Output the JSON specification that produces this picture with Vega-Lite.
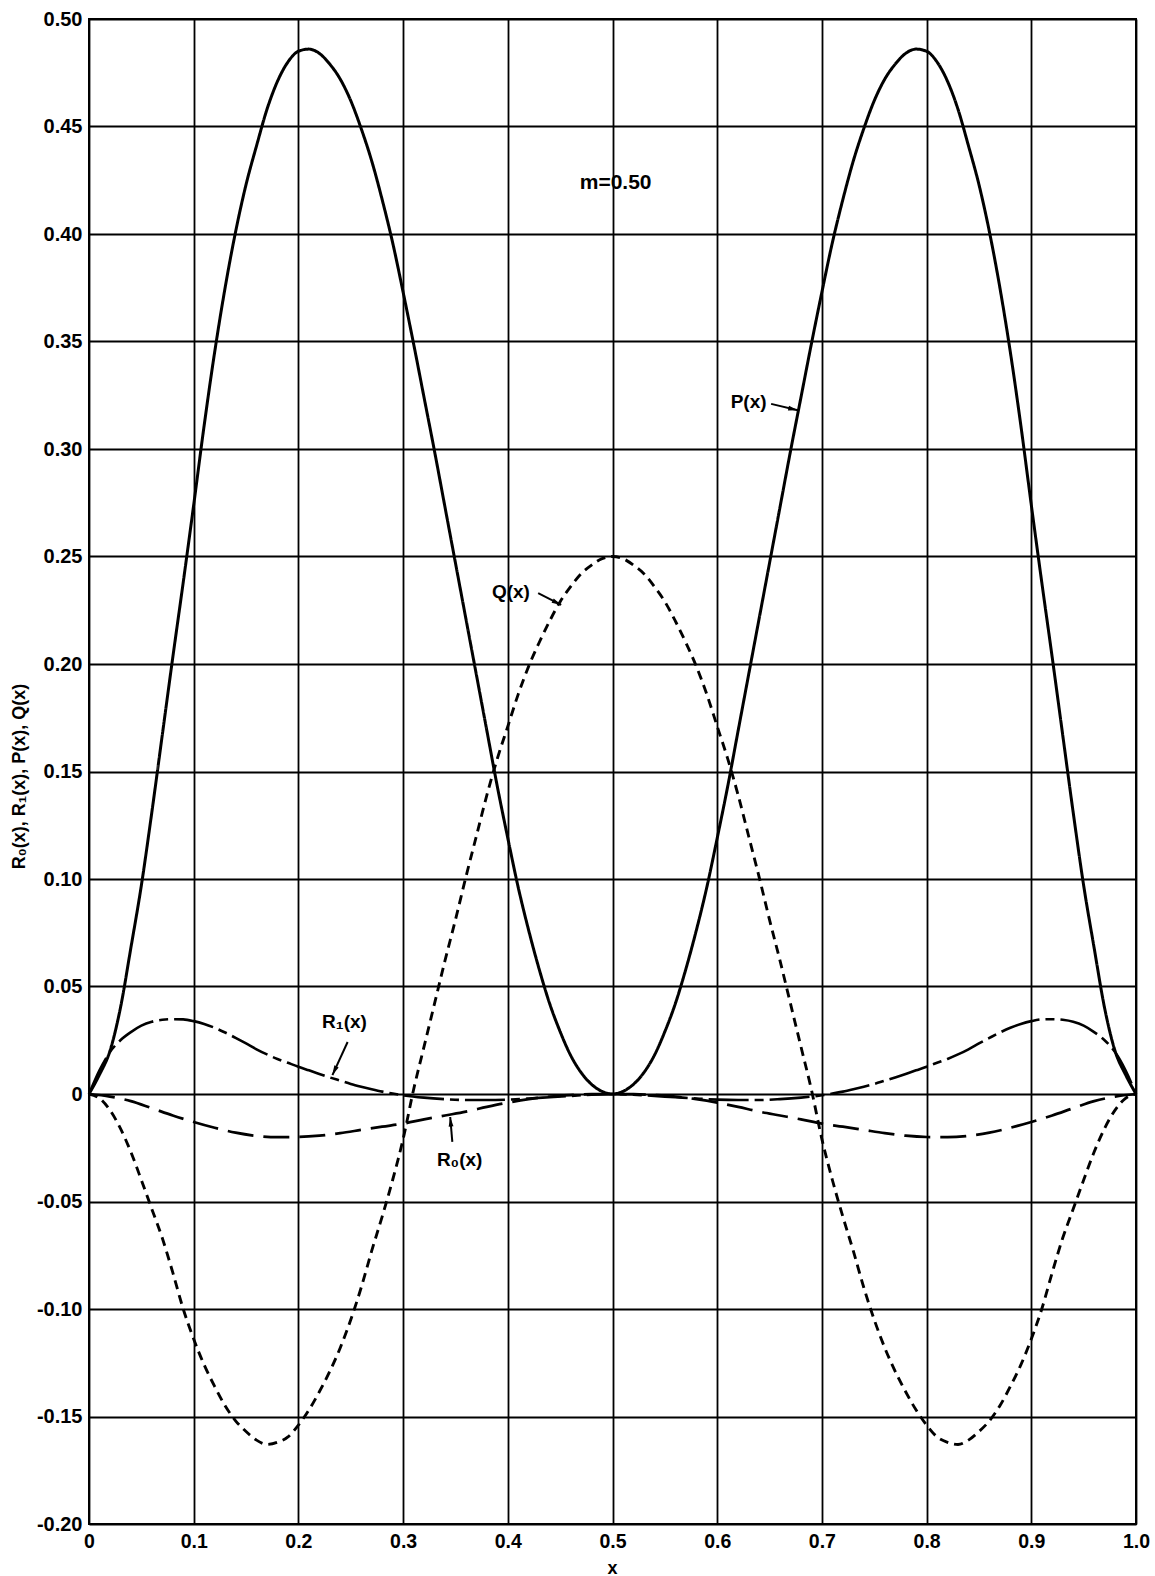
{
  "$schema": "https://vega.github.io/schema/vega-lite/v6.json",
  "width": 1047,
  "height": 1505,
  "autosize": {"type": "none"},
  "padding": {"left": 89, "top": 19, "right": 19, "bottom": 52},
  "background": "white",
  "config": {"view": {"stroke": "black", "strokeWidth": 2}, "font": "Liberation Sans"},
  "datasets": {
    "curves": [
      {"s":"P","x":0,"y":0},{"s":"P","x":0.01,"y":0.009},{"s":"P","x":0.02,"y":0.02},{"s":"P","x":0.03,"y":0.04},{"s":"P","x":0.04,"y":0.068},{"s":"P","x":0.05,"y":0.097},{"s":"P","x":0.06,"y":0.131},{"s":"P","x":0.07,"y":0.167},{"s":"P","x":0.08,"y":0.203},{"s":"P","x":0.09,"y":0.238},{"s":"P","x":0.1,"y":0.274},{"s":"P","x":0.11,"y":0.311},{"s":"P","x":0.12,"y":0.345},{"s":"P","x":0.13,"y":0.375},{"s":"P","x":0.14,"y":0.401},{"s":"P","x":0.15,"y":0.423},{"s":"P","x":0.16,"y":0.441},{"s":"P","x":0.17,"y":0.458},{"s":"P","x":0.18,"y":0.471},{"s":"P","x":0.19,"y":0.48},{"s":"P","x":0.2,"y":0.485},{"s":"P","x":0.21,"y":0.486},{"s":"P","x":0.22,"y":0.484},{"s":"P","x":0.23,"y":0.479},{"s":"P","x":0.24,"y":0.472},{"s":"P","x":0.25,"y":0.462},{"s":"P","x":0.26,"y":0.449},{"s":"P","x":0.27,"y":0.434},{"s":"P","x":0.28,"y":0.416},{"s":"P","x":0.29,"y":0.396},{"s":"P","x":0.3,"y":0.373},{"s":"P","x":0.31,"y":0.349},{"s":"P","x":0.32,"y":0.324},{"s":"P","x":0.33,"y":0.299},{"s":"P","x":0.34,"y":0.273},{"s":"P","x":0.35,"y":0.247},{"s":"P","x":0.36,"y":0.221},{"s":"P","x":0.37,"y":0.195},{"s":"P","x":0.38,"y":0.169},{"s":"P","x":0.39,"y":0.143},{"s":"P","x":0.4,"y":0.119},{"s":"P","x":0.41,"y":0.096},{"s":"P","x":0.42,"y":0.076},{"s":"P","x":0.43,"y":0.058},{"s":"P","x":0.44,"y":0.042},{"s":"P","x":0.45,"y":0.029},{"s":"P","x":0.46,"y":0.018},{"s":"P","x":0.47,"y":0.01},{"s":"P","x":0.48,"y":0.0045},{"s":"P","x":0.49,"y":0.0012},{"s":"P","x":0.5,"y":0},
      {"s":"P","x":0.51,"y":0.0012},{"s":"P","x":0.52,"y":0.0045},{"s":"P","x":0.53,"y":0.01},{"s":"P","x":0.54,"y":0.018},{"s":"P","x":0.55,"y":0.029},{"s":"P","x":0.56,"y":0.042},{"s":"P","x":0.57,"y":0.058},{"s":"P","x":0.58,"y":0.076},{"s":"P","x":0.59,"y":0.096},{"s":"P","x":0.6,"y":0.119},{"s":"P","x":0.61,"y":0.143},{"s":"P","x":0.62,"y":0.169},{"s":"P","x":0.63,"y":0.195},{"s":"P","x":0.64,"y":0.221},{"s":"P","x":0.65,"y":0.247},{"s":"P","x":0.66,"y":0.273},{"s":"P","x":0.67,"y":0.299},{"s":"P","x":0.68,"y":0.324},{"s":"P","x":0.69,"y":0.349},{"s":"P","x":0.7,"y":0.373},{"s":"P","x":0.71,"y":0.396},{"s":"P","x":0.72,"y":0.416},{"s":"P","x":0.73,"y":0.434},{"s":"P","x":0.74,"y":0.449},{"s":"P","x":0.75,"y":0.462},{"s":"P","x":0.76,"y":0.472},{"s":"P","x":0.77,"y":0.479},{"s":"P","x":0.78,"y":0.484},{"s":"P","x":0.79,"y":0.486},{"s":"P","x":0.8,"y":0.485},{"s":"P","x":0.81,"y":0.48},{"s":"P","x":0.82,"y":0.471},{"s":"P","x":0.83,"y":0.458},{"s":"P","x":0.84,"y":0.441},{"s":"P","x":0.85,"y":0.423},{"s":"P","x":0.86,"y":0.401},{"s":"P","x":0.87,"y":0.375},{"s":"P","x":0.88,"y":0.345},{"s":"P","x":0.89,"y":0.311},{"s":"P","x":0.9,"y":0.274},{"s":"P","x":0.91,"y":0.238},{"s":"P","x":0.92,"y":0.203},{"s":"P","x":0.93,"y":0.167},{"s":"P","x":0.94,"y":0.131},{"s":"P","x":0.95,"y":0.097},{"s":"P","x":0.96,"y":0.068},{"s":"P","x":0.97,"y":0.04},{"s":"P","x":0.98,"y":0.02},{"s":"P","x":0.99,"y":0.009},{"s":"P","x":1,"y":0},
      {"s":"Q","x":0,"y":0},{"s":"Q","x":0.01,"y":-0.002},{"s":"Q","x":0.02,"y":-0.0075},{"s":"Q","x":0.03,"y":-0.016},{"s":"Q","x":0.04,"y":-0.027},{"s":"Q","x":0.05,"y":-0.04},{"s":"Q","x":0.06,"y":-0.0535},{"s":"Q","x":0.07,"y":-0.067},{"s":"Q","x":0.08,"y":-0.083},{"s":"Q","x":0.09,"y":-0.1},{"s":"Q","x":0.1,"y":-0.114},{"s":"Q","x":0.11,"y":-0.126},{"s":"Q","x":0.12,"y":-0.136},{"s":"Q","x":0.13,"y":-0.145},{"s":"Q","x":0.14,"y":-0.152},{"s":"Q","x":0.15,"y":-0.157},{"s":"Q","x":0.16,"y":-0.161},{"s":"Q","x":0.17,"y":-0.163},{"s":"Q","x":0.18,"y":-0.162},{"s":"Q","x":0.19,"y":-0.1595},{"s":"Q","x":0.2,"y":-0.154},{"s":"Q","x":0.21,"y":-0.147},{"s":"Q","x":0.22,"y":-0.1385},{"s":"Q","x":0.23,"y":-0.129},{"s":"Q","x":0.24,"y":-0.118},{"s":"Q","x":0.25,"y":-0.105},{"s":"Q","x":0.26,"y":-0.09},{"s":"Q","x":0.27,"y":-0.073},{"s":"Q","x":0.28,"y":-0.057},{"s":"Q","x":0.29,"y":-0.04},{"s":"Q","x":0.3,"y":-0.021},{"s":"Q","x":0.31,"y":0.002},{"s":"Q","x":0.32,"y":0.022},{"s":"Q","x":0.33,"y":0.042},{"s":"Q","x":0.34,"y":0.062},{"s":"Q","x":0.35,"y":0.081},{"s":"Q","x":0.36,"y":0.101},{"s":"Q","x":0.37,"y":0.12},{"s":"Q","x":0.38,"y":0.139},{"s":"Q","x":0.39,"y":0.156},{"s":"Q","x":0.4,"y":0.171},{"s":"Q","x":0.41,"y":0.186},{"s":"Q","x":0.42,"y":0.199},{"s":"Q","x":0.43,"y":0.21},{"s":"Q","x":0.44,"y":0.22},{"s":"Q","x":0.45,"y":0.229},{"s":"Q","x":0.46,"y":0.236},{"s":"Q","x":0.47,"y":0.242},{"s":"Q","x":0.48,"y":0.246},{"s":"Q","x":0.49,"y":0.249},{"s":"Q","x":0.5,"y":0.25},
      {"s":"Q","x":0.51,"y":0.249},{"s":"Q","x":0.52,"y":0.246},{"s":"Q","x":0.53,"y":0.242},{"s":"Q","x":0.54,"y":0.236},{"s":"Q","x":0.55,"y":0.229},{"s":"Q","x":0.56,"y":0.22},{"s":"Q","x":0.57,"y":0.21},{"s":"Q","x":0.58,"y":0.199},{"s":"Q","x":0.59,"y":0.186},{"s":"Q","x":0.6,"y":0.171},{"s":"Q","x":0.61,"y":0.156},{"s":"Q","x":0.62,"y":0.139},{"s":"Q","x":0.63,"y":0.12},{"s":"Q","x":0.64,"y":0.101},{"s":"Q","x":0.65,"y":0.081},{"s":"Q","x":0.66,"y":0.062},{"s":"Q","x":0.67,"y":0.042},{"s":"Q","x":0.68,"y":0.022},{"s":"Q","x":0.69,"y":0.002},{"s":"Q","x":0.7,"y":-0.021},{"s":"Q","x":0.71,"y":-0.04},{"s":"Q","x":0.72,"y":-0.057},{"s":"Q","x":0.73,"y":-0.073},{"s":"Q","x":0.74,"y":-0.09},{"s":"Q","x":0.75,"y":-0.105},{"s":"Q","x":0.76,"y":-0.118},{"s":"Q","x":0.77,"y":-0.129},{"s":"Q","x":0.78,"y":-0.1385},{"s":"Q","x":0.79,"y":-0.147},{"s":"Q","x":0.8,"y":-0.154},{"s":"Q","x":0.81,"y":-0.1595},{"s":"Q","x":0.82,"y":-0.162},{"s":"Q","x":0.83,"y":-0.163},{"s":"Q","x":0.84,"y":-0.161},{"s":"Q","x":0.85,"y":-0.157},{"s":"Q","x":0.86,"y":-0.152},{"s":"Q","x":0.87,"y":-0.145},{"s":"Q","x":0.88,"y":-0.136},{"s":"Q","x":0.89,"y":-0.126},{"s":"Q","x":0.9,"y":-0.114},{"s":"Q","x":0.91,"y":-0.1},{"s":"Q","x":0.92,"y":-0.083},{"s":"Q","x":0.93,"y":-0.067},{"s":"Q","x":0.94,"y":-0.0535},{"s":"Q","x":0.95,"y":-0.04},{"s":"Q","x":0.96,"y":-0.027},{"s":"Q","x":0.97,"y":-0.016},{"s":"Q","x":0.98,"y":-0.0075},{"s":"Q","x":0.99,"y":-0.002},{"s":"Q","x":1,"y":0},
      {"s":"R0","x":0,"y":0},{"s":"R0","x":0.02,"y":-0.0012},{"s":"R0","x":0.04,"y":-0.0033},{"s":"R0","x":0.06,"y":-0.0066},{"s":"R0","x":0.08,"y":-0.01},{"s":"R0","x":0.1,"y":-0.013},{"s":"R0","x":0.12,"y":-0.0157},{"s":"R0","x":0.14,"y":-0.018},{"s":"R0","x":0.16,"y":-0.0195},{"s":"R0","x":0.18,"y":-0.0201},{"s":"R0","x":0.2,"y":-0.02},{"s":"R0","x":0.22,"y":-0.0194},{"s":"R0","x":0.24,"y":-0.0182},{"s":"R0","x":0.26,"y":-0.0167},{"s":"R0","x":0.28,"y":-0.0152},{"s":"R0","x":0.3,"y":-0.0138},{"s":"R0","x":0.32,"y":-0.0118},{"s":"R0","x":0.34,"y":-0.01},{"s":"R0","x":0.36,"y":-0.0082},{"s":"R0","x":0.38,"y":-0.006},{"s":"R0","x":0.4,"y":-0.004},{"s":"R0","x":0.42,"y":-0.0024},{"s":"R0","x":0.44,"y":-0.0012},{"s":"R0","x":0.46,"y":-0.0005},{"s":"R0","x":0.48,"y":-0.0001},{"s":"R0","x":0.5,"y":0},
      {"s":"R0","x":0.52,"y":-0.0001},{"s":"R0","x":0.54,"y":-0.0005},{"s":"R0","x":0.56,"y":-0.0012},{"s":"R0","x":0.58,"y":-0.0024},{"s":"R0","x":0.6,"y":-0.004},{"s":"R0","x":0.62,"y":-0.006},{"s":"R0","x":0.64,"y":-0.0082},{"s":"R0","x":0.66,"y":-0.01},{"s":"R0","x":0.68,"y":-0.0118},{"s":"R0","x":0.7,"y":-0.0138},{"s":"R0","x":0.72,"y":-0.0152},{"s":"R0","x":0.74,"y":-0.0167},{"s":"R0","x":0.76,"y":-0.0182},{"s":"R0","x":0.78,"y":-0.0194},{"s":"R0","x":0.8,"y":-0.02},{"s":"R0","x":0.82,"y":-0.0201},{"s":"R0","x":0.84,"y":-0.0195},{"s":"R0","x":0.86,"y":-0.018},{"s":"R0","x":0.88,"y":-0.0157},{"s":"R0","x":0.9,"y":-0.013},{"s":"R0","x":0.92,"y":-0.01},{"s":"R0","x":0.94,"y":-0.0066},{"s":"R0","x":0.96,"y":-0.0033},{"s":"R0","x":0.98,"y":-0.0012},{"s":"R0","x":1,"y":0},
      {"s":"R1","x":0,"y":0},{"s":"R1","x":0.01,"y":0.011},{"s":"R1","x":0.02,"y":0.0195},{"s":"R1","x":0.03,"y":0.025},{"s":"R1","x":0.04,"y":0.0288},{"s":"R1","x":0.05,"y":0.0318},{"s":"R1","x":0.06,"y":0.0336},{"s":"R1","x":0.07,"y":0.0345},{"s":"R1","x":0.08,"y":0.0348},{"s":"R1","x":0.09,"y":0.0347},{"s":"R1","x":0.1,"y":0.0339},{"s":"R1","x":0.11,"y":0.0326},{"s":"R1","x":0.12,"y":0.0308},{"s":"R1","x":0.13,"y":0.0286},{"s":"R1","x":0.14,"y":0.0261},{"s":"R1","x":0.15,"y":0.0235},{"s":"R1","x":0.16,"y":0.0208},{"s":"R1","x":0.17,"y":0.0184},{"s":"R1","x":0.18,"y":0.0163},{"s":"R1","x":0.19,"y":0.0145},{"s":"R1","x":0.2,"y":0.0127},{"s":"R1","x":0.21,"y":0.011},{"s":"R1","x":0.22,"y":0.0093},{"s":"R1","x":0.23,"y":0.0077},{"s":"R1","x":0.24,"y":0.0062},{"s":"R1","x":0.25,"y":0.0047},{"s":"R1","x":0.26,"y":0.0034},{"s":"R1","x":0.27,"y":0.0022},{"s":"R1","x":0.28,"y":0.0011},{"s":"R1","x":0.29,"y":0.0002},{"s":"R1","x":0.3,"y":-0.0006},{"s":"R1","x":0.32,"y":-0.0017},{"s":"R1","x":0.34,"y":-0.0024},{"s":"R1","x":0.36,"y":-0.0028},{"s":"R1","x":0.38,"y":-0.0028},{"s":"R1","x":0.4,"y":-0.0026},{"s":"R1","x":0.42,"y":-0.0021},{"s":"R1","x":0.44,"y":-0.0015},{"s":"R1","x":0.46,"y":-0.0009},{"s":"R1","x":0.48,"y":-0.0003},{"s":"R1","x":0.5,"y":0},
      {"s":"R1","x":0.52,"y":-0.0003},{"s":"R1","x":0.54,"y":-0.0009},{"s":"R1","x":0.56,"y":-0.0015},{"s":"R1","x":0.58,"y":-0.0021},{"s":"R1","x":0.6,"y":-0.0026},{"s":"R1","x":0.62,"y":-0.0028},{"s":"R1","x":0.64,"y":-0.0028},{"s":"R1","x":0.66,"y":-0.0024},{"s":"R1","x":0.68,"y":-0.0017},{"s":"R1","x":0.7,"y":-0.0006},{"s":"R1","x":0.71,"y":0.0002},{"s":"R1","x":0.72,"y":0.0011},{"s":"R1","x":0.73,"y":0.0022},{"s":"R1","x":0.74,"y":0.0034},{"s":"R1","x":0.75,"y":0.0047},{"s":"R1","x":0.76,"y":0.0062},{"s":"R1","x":0.77,"y":0.0077},{"s":"R1","x":0.78,"y":0.0093},{"s":"R1","x":0.79,"y":0.011},{"s":"R1","x":0.8,"y":0.0127},{"s":"R1","x":0.81,"y":0.0145},{"s":"R1","x":0.82,"y":0.0163},{"s":"R1","x":0.83,"y":0.0184},{"s":"R1","x":0.84,"y":0.0208},{"s":"R1","x":0.85,"y":0.0235},{"s":"R1","x":0.86,"y":0.0261},{"s":"R1","x":0.87,"y":0.0286},{"s":"R1","x":0.88,"y":0.0308},{"s":"R1","x":0.89,"y":0.0326},{"s":"R1","x":0.9,"y":0.0339},{"s":"R1","x":0.91,"y":0.0347},{"s":"R1","x":0.92,"y":0.0348},{"s":"R1","x":0.93,"y":0.0345},{"s":"R1","x":0.94,"y":0.0336},{"s":"R1","x":0.95,"y":0.0318},{"s":"R1","x":0.96,"y":0.0288},{"s":"R1","x":0.97,"y":0.025},{"s":"R1","x":0.98,"y":0.0195},{"s":"R1","x":0.99,"y":0.011},{"s":"R1","x":1,"y":0}
    ],
    "labels": [
      {"t":"P(x)","x":0.63,"y":0.322},
      {"t":"Q(x)","x":0.403,"y":0.2335},
      {"t":"R₁(x)","x":0.244,"y":0.0335},
      {"t":"R₀(x)","x":0.354,"y":-0.0307}
    ],
    "note": [
      {"t":"m=0.50","x":0.503,"y":0.4237}
    ],
    "arrows": [
      {"n":"P","x":0.6515,"y":0.321,"x2":0.677,"y2":0.318},
      {"n":"Q","x":0.429,"y":0.233,"x2":0.451,"y2":0.2275},
      {"n":"R1","x":0.247,"y":0.0242,"x2":0.2325,"y2":0.0088},
      {"n":"R0","x":0.347,"y":-0.0223,"x2":0.345,"y2":-0.0107}
    ]
  },
  "layer": [
    {
      "data": {"name": "curves"},
      "mark": {"type": "line", "interpolate": "monotone", "color": "black", "strokeCap": "butt"},
      "encoding": {
        "x": {
          "field": "x", "type": "quantitative",
          "scale": {"domain": [0, 1], "nice": false, "zero": false},
          "axis": {
            "values": [0, 0.1, 0.2, 0.3, 0.4, 0.5, 0.6, 0.7, 0.8, 0.9, 1],
            "labelExpr": "datum.value == 0 ? '0' : format(datum.value, '.1f')",
            "grid": true, "gridColor": "black", "gridWidth": 1.8, "gridOpacity": 1,
            "ticks": false, "domain": false,
            "labelFont": "Liberation Sans", "labelFontSize": 19.5, "labelFontWeight": "bold", "labelColor": "black",
            "labelPadding": 8, "labelFlush": false, "labelOverlap": false, "labelBound": false,
            "title": "x", "titleFont": "Liberation Sans", "titleFontSize": 18, "titleFontWeight": "bold", "titleColor": "black",
            "titleX": 523, "titleY": 49, "titleBaseline": "alphabetic", "titleAlign": "center"
          }
        },
        "y": {
          "field": "y", "type": "quantitative",
          "scale": {"domain": [-0.2, 0.5], "nice": false, "zero": false},
          "axis": {
            "values": [-0.2, -0.15, -0.1, -0.05, 0, 0.05, 0.1, 0.15, 0.2, 0.25, 0.3, 0.35, 0.4, 0.45, 0.5],
            "labelExpr": "datum.value == 0 ? '0' : (datum.value < 0 ? '-' : '') + format(abs(datum.value), '.2f')",
            "grid": true, "gridColor": "black", "gridWidth": 1.8, "gridOpacity": 1,
            "ticks": false, "domain": false,
            "labelFont": "Liberation Sans", "labelFontSize": 20, "labelFontWeight": "bold", "labelColor": "black",
            "labelPadding": 7, "labelFlush": false, "labelOverlap": false, "labelBound": false,
            "title": "R₀(x),  R₁(x),  P(x),  Q(x)", "titleFont": "Liberation Sans", "titleFontSize": 18, "titleFontWeight": "bold", "titleColor": "black",
            "titleAngle": 270, "titleX": -65, "titleY": 757, "titleAlign": "center", "titleBaseline": "alphabetic"
          }
        },
        "detail": {"field": "s", "type": "nominal"},
        "strokeDash": {
          "field": "s", "type": "nominal",
          "scale": {"domain": ["P", "Q", "R0", "R1"], "range": [[1, 0], [9, 6], [26, 10], [40, 6, 9, 6]]},
          "legend": null
        },
        "strokeWidth": {
          "field": "s", "type": "nominal",
          "scale": {"domain": ["P", "Q", "R0", "R1"], "range": [3, 2.6, 2.6, 2.6]},
          "legend": null
        }
      }
    },
    {
      "data": {"name": "arrows"},
      "mark": {"type": "rule", "color": "black", "strokeWidth": 2},
      "encoding": {
        "x": {"field": "x", "type": "quantitative"},
        "y": {"field": "y", "type": "quantitative"},
        "x2": {"field": "x2"},
        "y2": {"field": "y2"}
      }
    },
    {
      "data": {"name": "arrows"},
      "transform": [{"filter": "datum.n == 'P'"}],
      "mark": {"type": "point", "shape": "M0,0 L0.6,2.4 L-0.6,2.4 Z", "filled": true, "color": "black", "opacity": 1, "size": 64, "angle": 103},
      "encoding": {"x": {"field": "x2", "type": "quantitative"}, "y": {"field": "y2", "type": "quantitative"}}
    },
    {
      "data": {"name": "arrows"},
      "transform": [{"filter": "datum.n == 'Q'"}],
      "mark": {"type": "point", "shape": "M0,0 L0.6,2.4 L-0.6,2.4 Z", "filled": true, "color": "black", "opacity": 1, "size": 64, "angle": 117},
      "encoding": {"x": {"field": "x2", "type": "quantitative"}, "y": {"field": "y2", "type": "quantitative"}}
    },
    {
      "data": {"name": "arrows"},
      "transform": [{"filter": "datum.n == 'R1'"}],
      "mark": {"type": "point", "shape": "M0,0 L0.6,2.4 L-0.6,2.4 Z", "filled": true, "color": "black", "opacity": 1, "size": 64, "angle": 205},
      "encoding": {"x": {"field": "x2", "type": "quantitative"}, "y": {"field": "y2", "type": "quantitative"}}
    },
    {
      "data": {"name": "arrows"},
      "transform": [{"filter": "datum.n == 'R0'"}],
      "mark": {"type": "point", "shape": "M0,0 L0.6,2.4 L-0.6,2.4 Z", "filled": true, "color": "black", "opacity": 1, "size": 64, "angle": 355},
      "encoding": {"x": {"field": "x2", "type": "quantitative"}, "y": {"field": "y2", "type": "quantitative"}}
    },
    {
      "data": {"name": "labels"},
      "mark": {"type": "text", "font": "Liberation Sans", "fontSize": 19, "fontWeight": "bold", "color": "black", "align": "center", "baseline": "middle"},
      "encoding": {
        "x": {"field": "x", "type": "quantitative"},
        "y": {"field": "y", "type": "quantitative"},
        "text": {"field": "t", "type": "nominal"}
      }
    },
    {
      "data": {"name": "note"},
      "mark": {"type": "text", "font": "Liberation Sans", "fontSize": 21, "fontWeight": "bold", "color": "black", "align": "center", "baseline": "middle"},
      "encoding": {
        "x": {"field": "x", "type": "quantitative"},
        "y": {"field": "y", "type": "quantitative"},
        "text": {"field": "t", "type": "nominal"}
      }
    }
  ]
}
